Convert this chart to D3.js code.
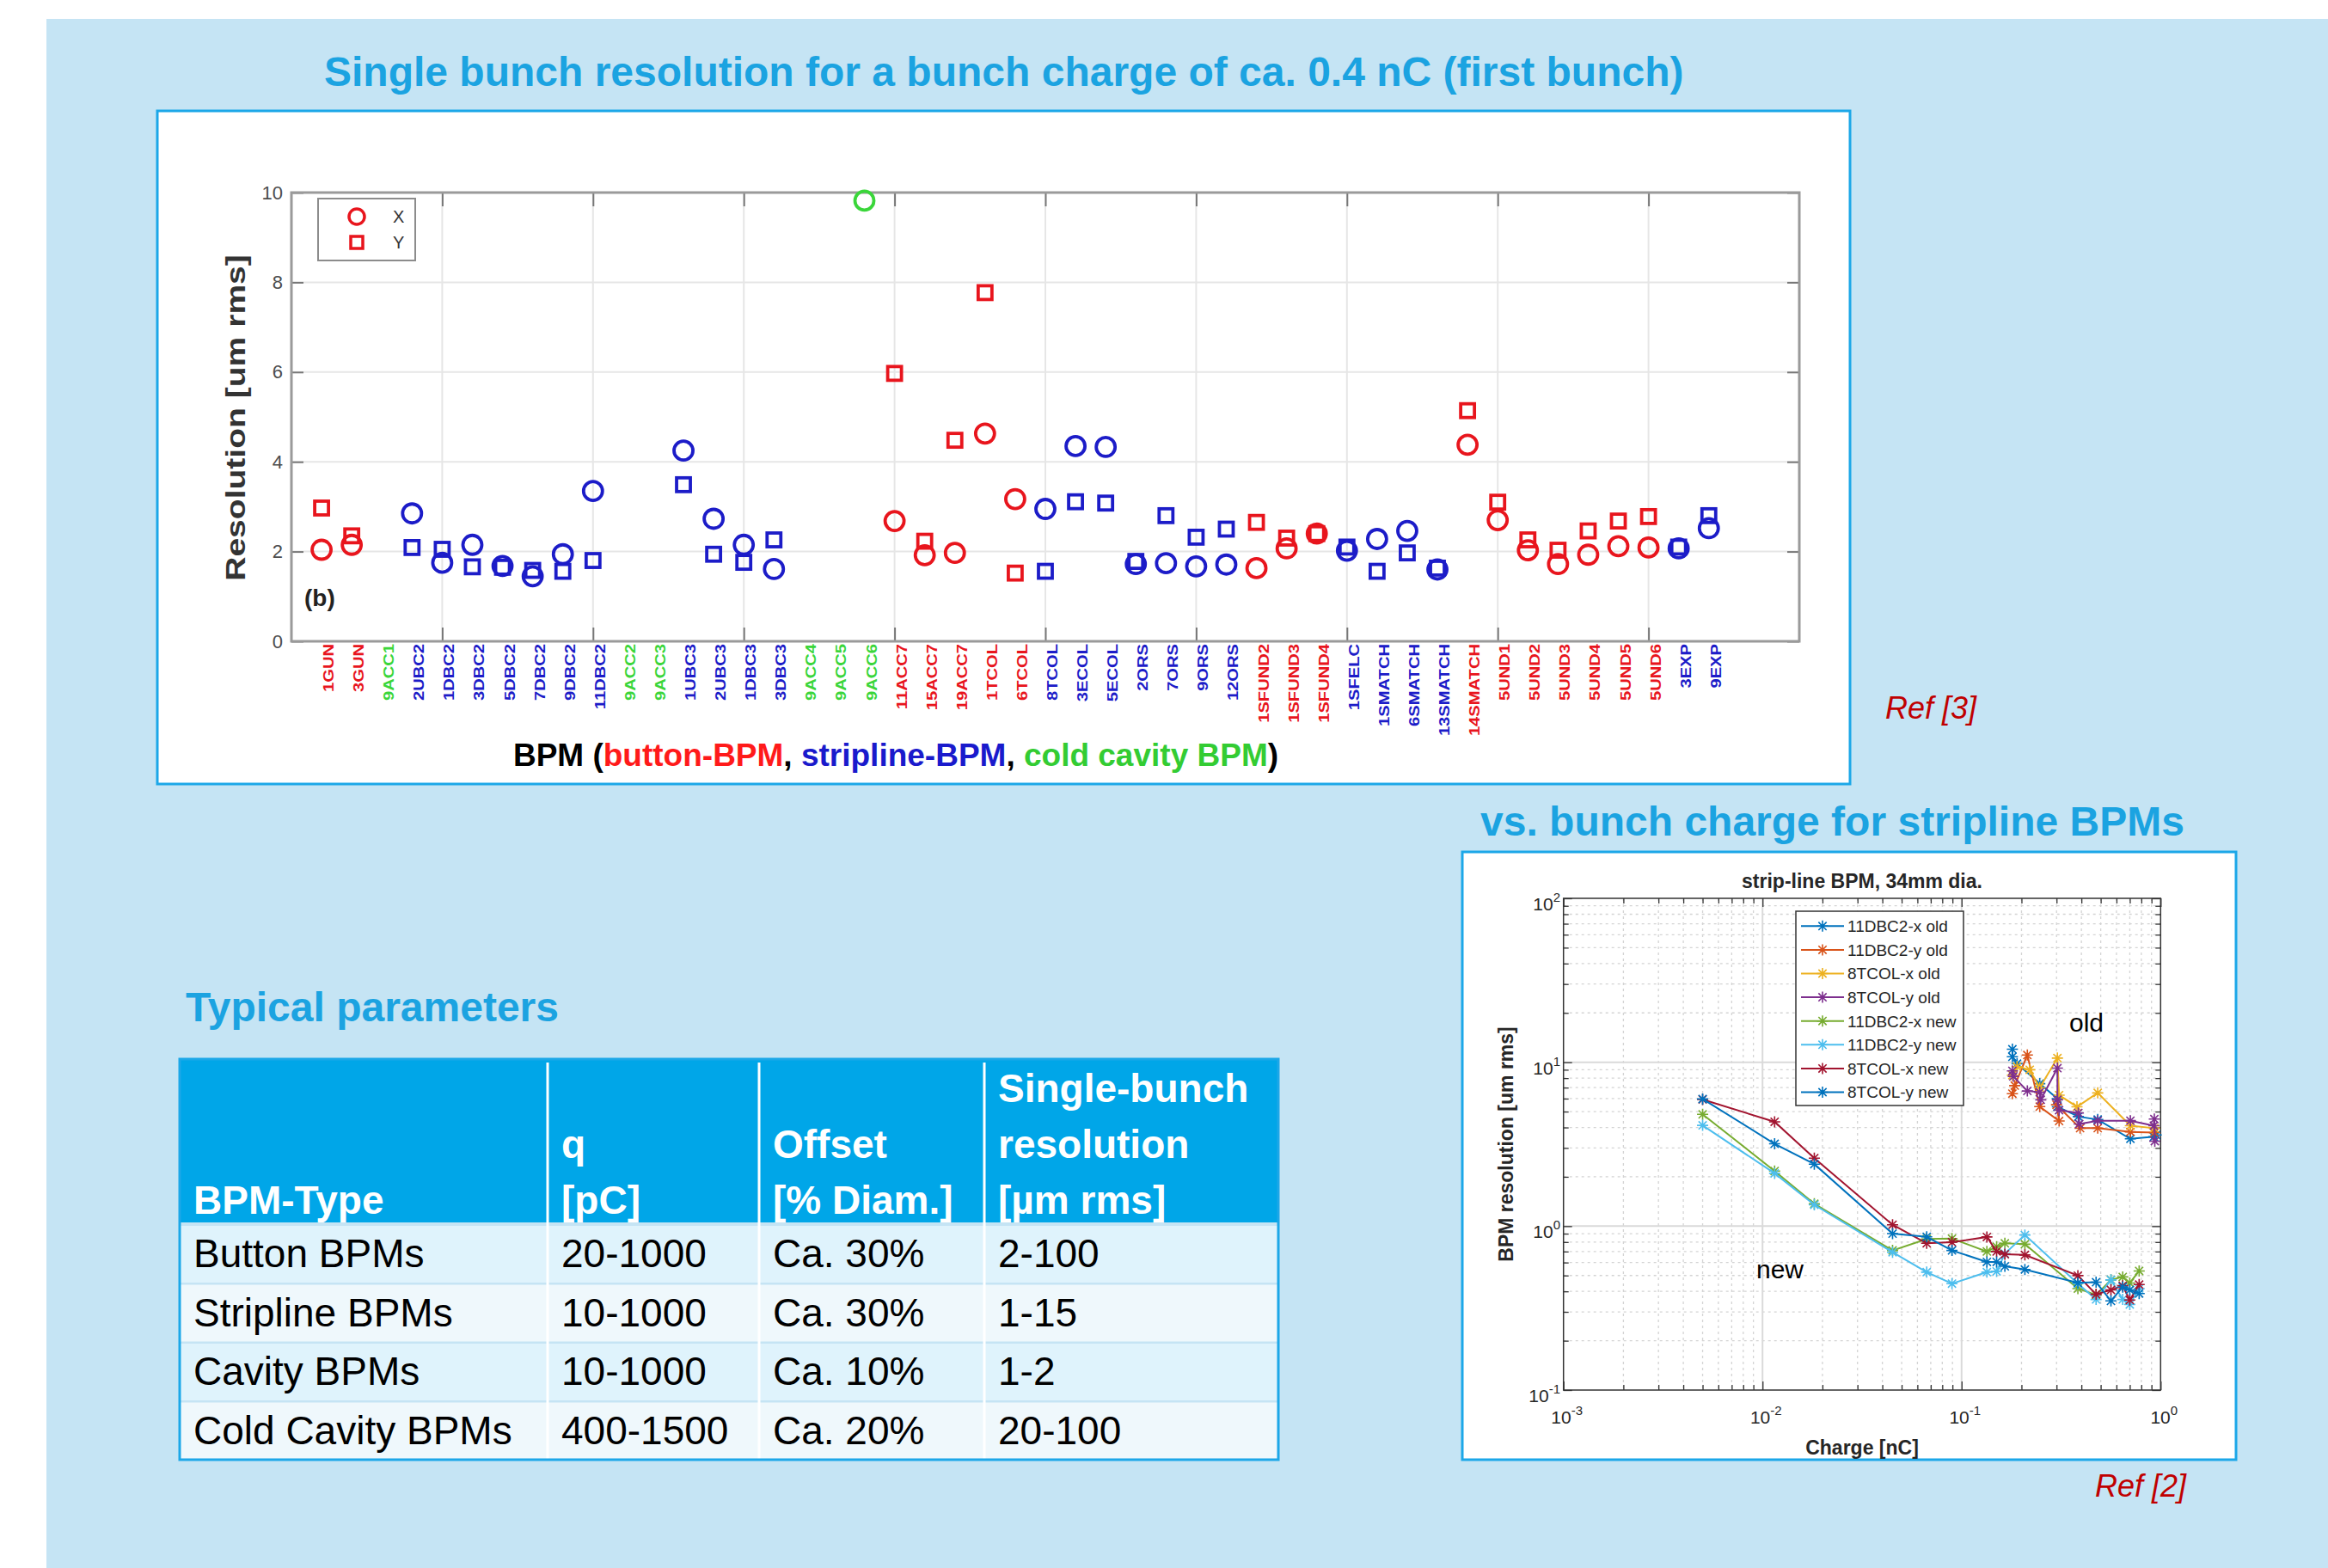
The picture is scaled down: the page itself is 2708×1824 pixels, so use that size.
<!DOCTYPE html>
<html>
<head>
<meta charset="utf-8">
<script src="https://cdn.jsdelivr.net/npm/d3@7"></script>
<style>
body { margin: 0; background: #fff; }
svg { display: block; font-family: "Liberation Sans", Arial, sans-serif; }
</style>
</head>
<body>
<svg id="slide" width="2708" height="1824"></svg>
<script>
// ---- data: single bunch resolution per BPM (top chart) ----
var bpmNames = ['1GUN','3GUN','9ACC1','2UBC2','1DBC2','3DBC2','5DBC2','7DBC2','9DBC2','11DBC2',
  '9ACC2','9ACC3','1UBC3','2UBC3','1DBC3','3DBC3','9ACC4','9ACC5','9ACC6','11ACC7',
  '15ACC7','19ACC7','1TCOL','6TCOL','8TCOL','3ECOL','5ECOL','2ORS','7ORS','9ORS',
  '12ORS','1SFUND2','1SFUND3','1SFUND4','1SFELC','1SMATCH','6SMATCH','13SMATCH','14SMATCH','5UND1',
  '5UND2','5UND3','5UND4','5UND5','5UND6','3EXP','9EXP'];
// b = button, s = stripline, c = cold cavity
var bpmKind = ['b','b','c','s','s','s','s','s','s','s',
  'c','c','s','s','s','s','c','c','c','b',
  'b','b','b','b','s','s','s','s','s','s',
  's','b','b','b','s','s','s','s','b','b',
  'b','b','b','b','b','s','s'];
var resX = [2.04,2.15,null,2.85,1.75,2.15,1.68,1.45,1.94,3.35,
  null,null,4.25,2.73,2.15,1.61,null,null,9.82,2.68,
  1.92,1.97,4.63,3.17,2.95,4.35,4.33,1.72,1.74,1.67,
  1.71,1.63,2.07,2.40,2.02,2.28,2.46,1.60,4.38,2.70,
  2.03,1.72,1.93,2.12,2.09,2.07,2.52];
var resY = [2.97,2.35,null,2.09,2.05,1.66,1.65,1.58,1.56,1.80,
  null,null,3.49,1.94,1.76,2.26,null,null,null,5.97,
  2.23,4.48,7.77,1.52,1.56,3.11,3.08,1.78,2.80,2.32,
  2.50,2.65,2.30,2.40,2.10,1.56,1.97,1.63,5.14,3.10,
  2.26,2.03,2.46,2.68,2.78,2.10,2.80];
var yTicksTop = [0,2,4,6,8,10];

// ---- data: resolution vs bunch charge (bottom right chart) ----
var qNew = [0.005,0.0115,0.0182,0.045,0.0668,0.0895,0.134,0.150,0.165,0.208,0.384,0.474,0.563,0.645,0.70,0.78];
var r11xNew = [4.81,2.17,1.37,0.711,0.835,0.84,0.70,0.75,0.786,0.776,0.416,0.38,0.47,0.49,0.45,0.533];
var r11yNew = [4.12,2.10,1.35,0.693,0.524,0.446,0.524,0.53,0.68,0.883,0.446,0.357,0.47,0.357,0.333,0.416];
var r8xNew = [5.93,4.33,2.60,1.02,0.786,0.798,0.859,0.70,0.674,0.667,0.499,0.384,0.408,0.433,0.354,0.44];
var r8yNew = [5.97,3.18,2.39,0.90,0.86,0.711,0.605,0.605,0.569,0.544,0.451,0.455,0.35,0.425,0.408,0.388];

var q11xOld = [0.18,0.18,0.19,0.247,0.303,0.303,0.386,0.483,0.705,0.925,0.95];
var r11xOld = [12.0,10.8,9.8,7.4,6.0,5.35,4.66,4.47,3.41,3.51,3.6];
var q11yOld = [0.18,0.185,0.214,0.247,0.309,0.30,0.394,0.483,0.705,0.93];
var r11yOld = [6.43,7.2,11.06,5.36,4.38,5.5,3.96,3.96,3.76,3.72];
var q8xOld = [0.18,0.19,0.22,0.247,0.303,0.309,0.38,0.483,0.705,0.93];
var r8xOld = [8.34,9.4,9.0,7.0,10.6,6.3,5.35,6.5,4.1,3.96];
var q8yOld = [0.18,0.182,0.214,0.247,0.25,0.303,0.303,0.309,0.386,0.39,0.483,0.705,0.925,0.93,0.935];
var r8yOld = [8.86,8.2,6.68,6.56,5.9,9.2,5.9,5.1,4.9,4.2,4.4,4.4,4.1,4.5,3.3];

var seriesNames = ['11DBC2-x old','11DBC2-y old','8TCOL-x old','8TCOL-y old',
  '11DBC2-x new','11DBC2-y new','8TCOL-x new','8TCOL-y new'];

// ---- data: typical parameters table ----
var tableHead = [['BPM-Type'], ['q','[pC]'], ['Offset','[% Diam.]'], ['Single-bunch','resolution','[\u00b5m rms]']];
var bpmTypes = ['Button BPMs','Stripline BPMs','Cavity BPMs','Cold Cavity BPMs'];
var chargeRange = ['20-1000','10-1000','10-1000','400-1500'];
var offsets = ['Ca. 30%','Ca. 30%','Ca. 10%','Ca. 20%'];
var resolutions = ['2-100','1-15','1-2','20-100'];

// ---- styles ----
var cyan = '#1ba3e1', frame = '#1ca7e8';
var kindColor = { b: '#e8151d', s: '#1c1cc8', c: '#3ad63a' };
var lineColors = ['#0072BD','#D95319','#EDB120','#7E2F8E','#77AC30','#4DBEEE','#A2142F','#0072BD'];

var svg = d3.select('#slide');

svg.append('rect').attr('width', 2708).attr('height', 1824).attr('fill', '#fff');
svg.append('rect').attr('x', 54).attr('y', 22).attr('width', 2654).attr('height', 1802).attr('fill', '#c5e4f4');

// headings
svg.append('text').attr('x', 377).attr('y', 100).attr('font-size', 48).attr('font-weight', 'bold')
  .attr('fill', cyan).text('Single bunch resolution for a bunch charge of ca. 0.4 nC (first bunch)');
svg.append('text').attr('x', 1722).attr('y', 972).attr('font-size', 48).attr('font-weight', 'bold')
  .attr('fill', cyan).text('vs. bunch charge for stripline BPMs');
svg.append('text').attr('x', 216).attr('y', 1188).attr('font-size', 48).attr('font-weight', 'bold')
  .attr('fill', cyan).text('Typical parameters');
svg.append('text').attr('x', 2193).attr('y', 836).attr('font-size', 36).attr('font-style', 'italic')
  .attr('fill', '#c00000').text('Ref [3]');
svg.append('text').attr('x', 2437).attr('y', 1741).attr('font-size', 36).attr('font-style', 'italic')
  .attr('fill', '#c00000').text('Ref [2]');

//======== top chart ========
var topG = svg.append('g');
topG.append('rect').attr('x', 183).attr('y', 129).attr('width', 1969).attr('height', 783)
  .attr('fill', '#fff').attr('stroke', frame).attr('stroke-width', 3);

var x1 = d3.scaleLinear().domain([0, 50]).range([339, 2093]);
var y1 = d3.scaleLinear().domain([0, 10]).range([746, 224]);

// grid
topG.selectAll('.hgrid').data(yTicksTop.slice(1, -1)).enter().append('line')
  .attr('x1', x1(0)).attr('x2', x1(50)).attr('y1', d => y1(d)).attr('y2', d => y1(d))
  .attr('stroke', '#e6e6e6').attr('stroke-width', 2);
topG.selectAll('.vgrid').data(d3.range(5, 50, 5)).enter().append('line')
  .attr('x1', d => x1(d)).attr('x2', d => x1(d)).attr('y1', y1(0)).attr('y2', y1(10))
  .attr('stroke', '#e6e6e6').attr('stroke-width', 2);

// axes, ticks inside
var axL = topG.append('g').attr('transform', 'translate(' + x1(0) + ',0)')
  .call(d3.axisLeft(y1).tickValues(yTicksTop).tickSizeInner(-14).tickSizeOuter(0).tickPadding(10));
var axR = topG.append('g').attr('transform', 'translate(' + x1(50) + ',0)')
  .call(d3.axisRight(y1).tickValues(yTicksTop).tickSizeInner(-14).tickSizeOuter(0).tickFormat(''));
var axB = topG.append('g').attr('transform', 'translate(0,' + y1(0) + ')')
  .call(d3.axisBottom(x1).tickValues(d3.range(5, 50, 5)).tickSizeInner(-16).tickSizeOuter(0).tickFormat(''));
var axT = topG.append('g').attr('transform', 'translate(0,' + y1(10) + ')')
  .call(d3.axisTop(x1).tickValues(d3.range(5, 50, 5)).tickSizeInner(-16).tickSizeOuter(0).tickFormat(''));
[axL, axR, axB, axT].forEach(function(a) {
  a.select('.domain').remove();
  a.selectAll('line').attr('stroke', '#777').attr('stroke-width', 2);
});
axL.selectAll('text').attr('font-size', 22).attr('fill', '#4d4d4d').attr('font-family', null);

topG.append('rect').attr('x', x1(0)).attr('y', y1(10)).attr('width', x1(50) - x1(0)).attr('height', y1(0) - y1(10))
  .attr('fill', 'none').attr('stroke', '#9a9a9a').attr('stroke-width', 3);

// x labels, rotated and stretched like the source image
topG.selectAll('.bpmlab').data(bpmNames).enter().append('text')
  .attr('transform', (d, i) => 'translate(' + (x1(i + 1) + 14) + ',' + (y1(0) + 3) + ') rotate(-90) scale(1.26,1)')
  .attr('text-anchor', 'end').attr('font-size', 16).attr('font-weight', 'bold')
  .attr('fill', (d, i) => kindColor[bpmKind[i]]).text(d => d);

// markers
var idx = d3.range(bpmNames.length);
topG.selectAll('.mx').data(idx.filter(i => resX[i] != null)).enter().append('circle')
  .attr('cx', i => x1(i + 1)).attr('cy', i => y1(resX[i])).attr('r', 11)
  .attr('fill', 'none').attr('stroke', i => kindColor[bpmKind[i]]).attr('stroke-width', 3.8);
topG.selectAll('.my').data(idx.filter(i => resY[i] != null)).enter().append('rect')
  .attr('x', i => x1(i + 1) - 8).attr('y', i => y1(resY[i]) - 8).attr('width', 16).attr('height', 16)
  .attr('fill', 'none').attr('stroke', i => kindColor[bpmKind[i]]).attr('stroke-width', 3.8);

// legend
topG.append('rect').attr('x', 370).attr('y', 231).attr('width', 113).attr('height', 72)
  .attr('fill', '#fff').attr('stroke', '#8c8c8c').attr('stroke-width', 2);
topG.append('circle').attr('cx', 415).attr('cy', 252).attr('r', 9).attr('fill', 'none')
  .attr('stroke', kindColor.b).attr('stroke-width', 3.5);
topG.append('rect').attr('x', 408).attr('y', 275).attr('width', 14).attr('height', 14).attr('fill', 'none')
  .attr('stroke', kindColor.b).attr('stroke-width', 3.5);
topG.append('text').attr('x', 457).attr('y', 259).attr('font-size', 20).attr('fill', '#333').text('X');
topG.append('text').attr('x', 457).attr('y', 289).attr('font-size', 20).attr('fill', '#333').text('Y');

topG.append('text').attr('x', 354).attr('y', 705).attr('font-size', 28).attr('font-weight', 'bold')
  .attr('fill', '#222').text('(b)');

topG.append('text').attr('transform', 'translate(285,486) rotate(-90) scale(1.26,1)')
  .attr('text-anchor', 'middle').attr('font-size', 31).attr('font-weight', 'bold')
  .attr('fill', '#333').text('Resolution [um rms]');

var xt = topG.append('text').attr('x', 1042).attr('y', 891).attr('text-anchor', 'middle')
  .attr('font-size', 37).attr('font-weight', 'bold');
[['BPM (', '#000'], ['button-BPM', '#ff1a1a'], [', ', '#000'], ['stripline-BPM', '#1a1acc'],
 [', ', '#000'], ['cold cavity BPM', '#33cc33'], [')', '#000']].forEach(function(p) {
  xt.append('tspan').attr('fill', p[1]).text(p[0]);
});

//======== table ========
var colX = [209, 637, 883, 1145, 1487];
var tab = svg.append('g');
tab.append('rect').attr('x', 209).attr('y', 1232).attr('width', 1278).attr('height', 190).attr('fill', '#00a6e8');
var rowFill = ['#dff3fc', '#eff8fc', '#dff3fc', '#eff8fc'];
var rowTop = d => 1426 + d * 68.5;
tab.selectAll('.row').data(d3.range(4)).enter().append('rect')
  .attr('x', 209).attr('y', d => rowTop(d)).attr('width', 1278).attr('height', 66)
  .attr('fill', d => rowFill[d]);
tab.selectAll('.csep').data(colX.slice(1, -1)).enter().append('line')
  .attr('x1', d => d).attr('x2', d => d).attr('y1', 1236).attr('y2', 1698)
  .attr('stroke', '#fff').attr('stroke-width', 3);
tab.append('rect').attr('x', 209).attr('y', 1232).attr('width', 1278).attr('height', 466)
  .attr('fill', 'none').attr('stroke', frame).attr('stroke-width', 3);

var headBase = [1282, 1347, 1412];
tableHead.forEach(function(lines, c) {
  lines.forEach(function(t, k) {
    tab.append('text').attr('x', colX[c] + 16).attr('y', headBase[3 - lines.length + k])
      .attr('font-size', 46).attr('font-weight', 'bold').attr('fill', '#fff').text(t);
  });
});
[bpmTypes, chargeRange, offsets, resolutions].forEach(function(col, c) {
  tab.selectAll('.c' + c).data(col).enter().append('text')
    .attr('x', colX[c] + 16).attr('y', (d, i) => rowTop(i) + 48)
    .attr('font-size', 46).attr('fill', '#000').text(d => d);
});

//======== bottom right chart ========
var br = svg.append('g');
br.append('rect').attr('x', 1701).attr('y', 991).attr('width', 900).attr('height', 707)
  .attr('fill', '#fff').attr('stroke', frame).attr('stroke-width', 3);

var x2 = d3.scaleLog().domain([1e-3, 1]).range([1818.7, 2513.3]);
var y2 = d3.scaleLog().domain([0.1, 100]).range([1617, 1045]);
var xMajor = [1e-3, 1e-2, 1e-1, 1], yMajor = [0.1, 1, 10, 100];
var xMinor = x2.ticks().filter(d => xMajor.indexOf(d) < 0);
var yMinor = y2.ticks().filter(d => yMajor.indexOf(d) < 0);

br.selectAll('.xmin').data(xMinor).enter().append('line')
  .attr('x1', d => x2(d)).attr('x2', d => x2(d)).attr('y1', 1045).attr('y2', 1617)
  .attr('stroke', '#d4d4d4').attr('stroke-width', 1.3).attr('stroke-dasharray', '3,4');
br.selectAll('.ymin').data(yMinor).enter().append('line')
  .attr('x1', 1818.7).attr('x2', 2513.3).attr('y1', d => y2(d)).attr('y2', d => y2(d))
  .attr('stroke', '#d4d4d4').attr('stroke-width', 1.3).attr('stroke-dasharray', '3,4');
br.selectAll('.xmaj').data(xMajor.slice(1, -1)).enter().append('line')
  .attr('x1', d => x2(d)).attr('x2', d => x2(d)).attr('y1', 1045).attr('y2', 1617)
  .attr('stroke', '#dadada').attr('stroke-width', 2);
br.selectAll('.ymaj').data(yMajor.slice(1, -1)).enter().append('line')
  .attr('x1', 1818.7).attr('x2', 2513.3).attr('y1', d => y2(d)).attr('y2', d => y2(d))
  .attr('stroke', '#dadada').attr('stroke-width', 2);

function ticks(axisFn, scale, vals, size, tr) {
  var g = br.append('g').attr('transform', tr)
    .call(axisFn(scale).tickValues(vals).tickSizeInner(-size).tickSizeOuter(0).tickFormat(''));
  g.select('.domain').remove();
  g.selectAll('line').attr('stroke', '#333').attr('stroke-width', 1.3);
}
ticks(d3.axisBottom, x2, xMajor, 10, 'translate(0,1617)');
ticks(d3.axisBottom, x2, xMinor, 6, 'translate(0,1617)');
ticks(d3.axisTop, x2, xMajor, 10, 'translate(0,1045)');
ticks(d3.axisTop, x2, xMinor, 6, 'translate(0,1045)');
ticks(d3.axisLeft, y2, yMajor, 10, 'translate(1818.7,0)');
ticks(d3.axisLeft, y2, yMinor, 6, 'translate(1818.7,0)');
ticks(d3.axisRight, y2, yMajor, 10, 'translate(2513.3,0)');
ticks(d3.axisRight, y2, yMinor, 6, 'translate(2513.3,0)');

br.append('rect').attr('x', 1818.7).attr('y', 1045).attr('width', 2513.3 - 1818.7).attr('height', 572)
  .attr('fill', 'none').attr('stroke', '#333').attr('stroke-width', 1.5);

// power-of-ten labels
function pow10(sel) {
  sel.append('tspan').text('10');
  sel.append('tspan').attr('dy', -10).attr('font-size', 15).text(d => Math.round(Math.log10(d)));
}
br.selectAll('.ylab').data(yMajor).enter().append('text')
  .attr('x', 1815).attr('y', d => y2(d) + 14).attr('text-anchor', 'end')
  .attr('font-size', 21).attr('fill', '#262626').call(pow10);
br.selectAll('.xlab').data(xMajor).enter().append('text')
  .attr('x', d => x2(d) + 4).attr('y', 1656).attr('text-anchor', 'middle')
  .attr('font-size', 21).attr('fill', '#262626').call(pow10);

br.append('text').attr('x', 2166).attr('y', 1033).attr('text-anchor', 'middle')
  .attr('font-size', 23).attr('font-weight', 'bold').attr('fill', '#262626').text('strip-line BPM, 34mm dia.');
br.append('text').attr('x', 2166).attr('y', 1692).attr('text-anchor', 'middle')
  .attr('font-size', 23).attr('font-weight', 'bold').attr('fill', '#262626').text('Charge [nC]');
br.append('text').attr('transform', 'translate(1760,1331) rotate(-90)').attr('text-anchor', 'middle')
  .attr('font-size', 23).attr('font-weight', 'bold').attr('fill', '#262626').text('BPM resolution [um rms]');

var series = [
  { q: q11xOld, r: r11xOld }, { q: q11yOld, r: r11yOld }, { q: q8xOld, r: r8xOld }, { q: q8yOld, r: r8yOld },
  { q: qNew, r: r11xNew }, { q: qNew, r: r11yNew }, { q: qNew, r: r8xNew }, { q: qNew, r: r8yNew }
];
var line2 = d3.line().x(d => x2(d[0])).y(d => y2(d[1]));
var star = function(s) {
  var k = s * 0.72;
  return 'M' + -s + ',0H' + s + 'M0,' + -s + 'V' + s +
    'M' + -k + ',' + -k + 'L' + k + ',' + k + 'M' + -k + ',' + k + 'L' + k + ',' + -k;
};

series.forEach(function(s, j) {
  var pts = s.q.map((q, i) => [q, s.r[i]]);
  var g = br.append('g');
  g.append('path').attr('d', line2(pts)).attr('fill', 'none')
    .attr('stroke', lineColors[j]).attr('stroke-width', 2);
  g.selectAll('.st').data(pts).enter().append('path')
    .attr('transform', d => 'translate(' + x2(d[0]) + ',' + y2(d[1]) + ')')
    .attr('d', star(6.5)).attr('stroke', lineColors[j]).attr('stroke-width', 1.6).attr('fill', 'none');
});

br.append('text').attr('x', 2407).attr('y', 1200).attr('font-size', 30).attr('fill', '#000').text('old');
br.append('text').attr('x', 2043).attr('y', 1487).attr('font-size', 30).attr('fill', '#000').text('new');

// legend
var lg = br.append('g');
lg.append('rect').attr('x', 2089).attr('y', 1060).attr('width', 195).attr('height', 226)
  .attr('fill', '#fff').attr('stroke', '#333').attr('stroke-width', 1.5);
var lgItem = lg.selectAll('.li').data(seriesNames).enter().append('g')
  .attr('transform', (d, i) => 'translate(0,' + (1077.3 + i * 27.6) + ')');
lgItem.append('line').attr('x1', 2095).attr('x2', 2145).attr('stroke', (d, i) => lineColors[i]).attr('stroke-width', 2);
lgItem.append('path').attr('transform', 'translate(2120,0)').attr('d', star(6.5))
  .attr('stroke', (d, i) => lineColors[i]).attr('stroke-width', 1.6);
lgItem.append('text').attr('x', 2149).attr('dy', '0.36em').attr('font-size', 19)
  .attr('fill', '#262626').text(d => d);
</script>
</body>
</html>
